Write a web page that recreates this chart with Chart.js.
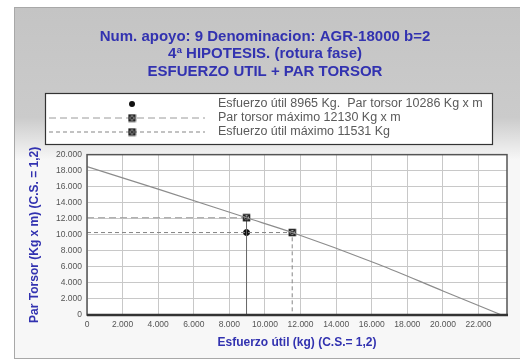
<!DOCTYPE html>
<html>
<head>
<meta charset="utf-8">
<script src="https://cdn.jsdelivr.net/npm/chart.js@4.4.1/dist/chart.umd.min.js"></script>
<style>
  html, body { margin: 0; padding: 0; background: #fff; }
  #wrap { width: 520px; height: 363px; }
</style>
</head>
<body>
<div id="wrap"><canvas id="chart"></canvas></div>
<script>
// --- data ---
const titleLines = ['Num. apoyo: 9 Denominacion: AGR-18000 b=2', '4ª HIPOTESIS. (rotura fase)', 'ESFUERZO UTIL + PAR TORSOR'];
const xTitle = 'Esfuerzo útil (kg) (C.S.= 1,2)';
const yTitle = 'Par Torsor (Kg x m) (C.S. = 1,2)';

// interaction curve (esfuerzo util, par torsor)
const curveX = [0, 4000, 8965, 11531, 16400, 20000, 23300];
const curveY = [18500, 15700, 12130, 10286, 6300, 3000, 0];

const esfuerzoUtil = 8965;
const parTorsor = 10286;
const parTorsorMax = 12130;
const esfuerzoUtilMax = 11531;

const xTicks = [0, 2000, 4000, 6000, 8000, 10000, 12000, 14000, 16000, 18000, 20000, 22000];
const yTicks = [0, 2000, 4000, 6000, 8000, 10000, 12000, 14000, 16000, 18000, 20000];
const xMax = 23600;
const yMax = 20000;

const legendLabels = [
  'Esfuerzo útil ' + esfuerzoUtil + ' Kg.  Par torsor ' + parTorsor + ' Kg x m',
  'Par torsor máximo ' + parTorsorMax + ' Kg x m',
  'Esfuerzo útil máximo ' + esfuerzoUtilMax + ' Kg'
];

const fmt = v => String(v).replace(/\B(?=(\d{3})+(?!\d))/g, '.');
const FONT = '"Liberation Sans", Arial, sans-serif';

// box with a cross marker
const boxX = document.createElement('canvas');
boxX.width = 9; boxX.height = 9;
(() => {
  const c = boxX.getContext('2d');
  c.strokeStyle = '#222'; c.lineWidth = 1.5;
  c.strokeRect(1.5, 1.5, 6, 6);
  c.beginPath();
  c.moveTo(1.5, 1.5); c.lineTo(7.5, 7.5);
  c.moveTo(7.5, 1.5); c.lineTo(1.5, 7.5);
  c.stroke();
})();

const frameBg = {
  id: 'frameBg',
  beforeDraw(chart) {
    const ctx = chart.ctx;
    const a = chart.chartArea;
    ctx.save();
    ctx.fillStyle = '#fff';
    ctx.fillRect(0, 0, chart.width, chart.height);
    const g = ctx.createLinearGradient(0, 8, 0, 160);
    g.addColorStop(0, '#c4c4c4');
    g.addColorStop(0.72, '#cbcbcb');
    g.addColorStop(1, '#f7f7f7');
    ctx.fillStyle = g;
    ctx.fillRect(14, 7, 506, 352);
    ctx.strokeStyle = '#a8a8a8';
    ctx.lineWidth = 1;
    ctx.strokeRect(14.5, 7.5, 510, 351);
    ctx.fillStyle = '#fff';
    ctx.fillRect(a.left, a.top, a.width, a.height);
    ctx.restore();
  },
  afterDraw(chart) {
    const ctx = chart.ctx;
    const a = chart.chartArea;
    ctx.save();
    ctx.strokeStyle = '#555';
    ctx.lineWidth = 1.5;
    ctx.strokeRect(a.left, a.top, a.width, a.height);
    ctx.strokeStyle = '#333';
    ctx.lineWidth = 2.5;
    ctx.beginPath();
    ctx.moveTo(a.left, a.bottom); ctx.lineTo(a.right + 1, a.bottom);
    ctx.stroke();
    ctx.restore();
  }
};

// legend drawn as a framed box with long line samples
const boxLegend = {
  id: 'boxLegend',
  afterDraw(chart) {
    const ctx = chart.ctx;
    ctx.save();
    ctx.fillStyle = '#fff';
    ctx.fillRect(45, 93, 448, 52);
    ctx.strokeStyle = '#333';
    ctx.lineWidth = 1.2;
    ctx.strokeRect(45.5, 93.5, 447, 51);
    const rows = [104, 118, 132];
    chart.data.datasets.forEach(ds => {
      if (ds.legendRow === undefined) return;
      const y = rows[ds.legendRow];
      if (ds.showLine !== false) {
        ctx.save();
        ctx.strokeStyle = ds.borderColor;
        ctx.lineWidth = ds.borderWidth;
        ctx.setLineDash(ds.borderDash || []);
        ctx.beginPath();
        ctx.moveTo(49, y); ctx.lineTo(205, y);
        ctx.stroke();
        ctx.restore();
      }
      if (ds.legendMarker === 'circle') {
        ctx.fillStyle = '#111';
        ctx.beginPath(); ctx.arc(132, y, 3, 0, Math.PI * 2); ctx.fill();
      } else {
        ctx.drawImage(boxX, 132 - 4.5, y - 4.5);
      }
      ctx.fillStyle = '#5a5a5a';
      ctx.font = '12.5px ' + FONT;
      ctx.textAlign = 'left';
      ctx.textBaseline = 'middle';
      ctx.fillText(legendLabels[ds.legendRow], 218, y);
    });
    ctx.restore();
  }
};

new Chart(document.getElementById('chart'), {
  type: 'line',
  data: {
    datasets: [
      {
        label: 'curva',
        data: curveX.map((x, i) => ({ x: x, y: curveY[i] })),
        borderColor: '#8c8c8c',
        borderWidth: 1.2,
        pointRadius: 0,
        cubicInterpolationMode: 'monotone'
      },
      {
        label: legendLabels[1],
        legendRow: 1,
        legendMarker: 'box',
        data: [{ x: 0, y: parTorsorMax }, { x: esfuerzoUtil, y: parTorsorMax }, { x: esfuerzoUtil, y: 0 }],
        borderColor: '#9a9a9a',
        borderWidth: 1,
        borderDash: [7, 4],
        segment: {
          borderDash: c => (c.p0DataIndex === 1 ? [] : [7, 4]),
          borderColor: c => (c.p0DataIndex === 1 ? '#666' : '#9a9a9a')
        },
        pointRadius: [0, 4, 0],
        pointStyle: boxX
      },
      {
        label: legendLabels[2],
        legendRow: 2,
        legendMarker: 'box',
        data: [{ x: 0, y: parTorsor }, { x: esfuerzoUtilMax, y: parTorsor }, { x: esfuerzoUtilMax, y: 0 }],
        borderColor: '#858585',
        borderWidth: 1,
        borderDash: [4, 3],
        pointRadius: [0, 4, 0],
        pointStyle: boxX
      },
      {
        label: legendLabels[0],
        legendRow: 0,
        legendMarker: 'circle',
        showLine: false,
        data: [{ x: esfuerzoUtil, y: parTorsor }],
        pointRadius: 3,
        pointBackgroundColor: '#111',
        pointBorderColor: '#111'
      }
    ]
  },
  options: {
    responsive: true,
    maintainAspectRatio: false,
    animation: false,
    layout: { padding: { left: 14, right: 4, top: 0, bottom: 5 } },
    plugins: {
      legend: { display: false },
      tooltip: { enabled: false },
      title: {
        display: true,
        text: titleLines,
        color: '#3232b0',
        font: { family: FONT, size: 15, weight: 'bold', lineHeight: 1.17 },
        padding: { top: 28, bottom: 74 }
      }
    },
    scales: {
      x: {
        type: 'linear',
        min: 0,
        max: xMax,
        afterBuildTicks: s => { s.ticks = xTicks.map(v => ({ value: v })); },
        afterFit: s => { s.height = 43; },
        grid: { color: '#c8c8c8', drawTicks: false },
        border: { display: false },
        ticks: {
          padding: 5,
          maxRotation: 0,
          autoSkip: false,
          color: '#555',
          font: { family: FONT, size: 8.5 },
          callback: v => fmt(v)
        },
        title: {
          display: true,
          text: xTitle,
          color: '#3232b0',
          font: { family: FONT, size: 12, weight: 'bold' },
          padding: { top: 0, bottom: 8 }
        }
      },
      y: {
        type: 'linear',
        min: 0,
        max: yMax,
        afterBuildTicks: s => { s.ticks = yTicks.map(v => ({ value: v })); },
        afterFit: s => { s.width = 73; },
        grid: { color: '#c8c8c8', drawTicks: false },
        border: { display: false },
        ticks: {
          padding: 5,
          autoSkip: false,
          color: '#555',
          font: { family: FONT, size: 8.5 },
          callback: v => fmt(v)
        },
        title: {
          display: true,
          text: yTitle,
          color: '#3232b0',
          font: { family: FONT, size: 12, weight: 'bold' },
          padding: { top: 13, bottom: 0 }
        }
      },
      yRight: {
        type: 'linear',
        position: 'right',
        min: 0,
        max: 1,
        afterFit: s => { s.width = 9; },
        grid: { display: false },
        border: { display: false },
        ticks: { display: false }
      }
    }
  },
  plugins: [frameBg, boxLegend]
});
</script>
</body>
</html>
